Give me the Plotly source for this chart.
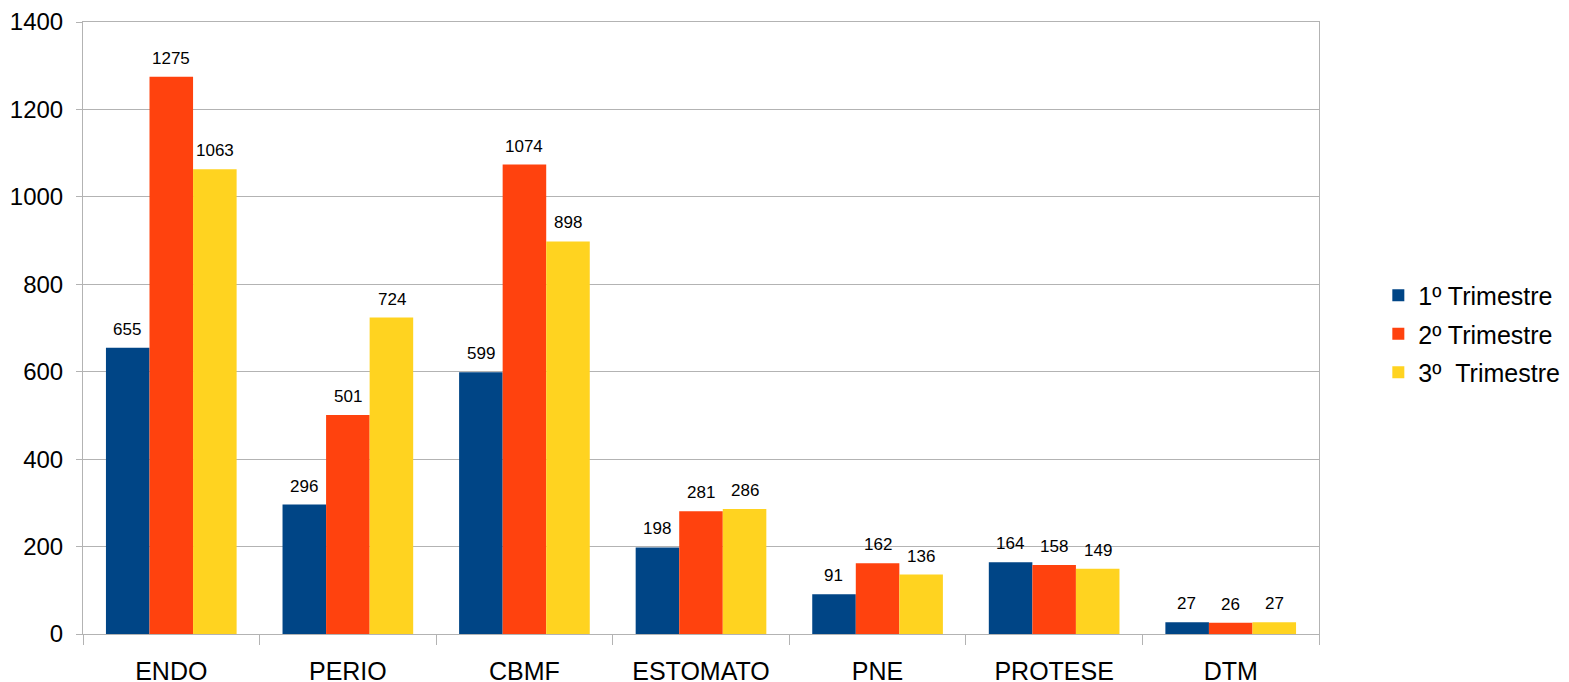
import plotly.graph_objects as go

categories = ["ENDO", "PERIO", "CBMF", "ESTOMATO", "PNE", "PROTESE", "DTM"]
tri1 = [655, 296, 599, 198, 91, 164, 27]
tri2 = [1275, 501, 1074, 281, 162, 158, 26]
tri3 = [1063, 724, 898, 286, 136, 149, 27]
series_names = ["1º Trimestre", "2º Trimestre", "3º\u00a0\u00a0Trimestre"]
colors = ["#004586", "#ff420e", "#ffd320"]

fig = go.Figure()
series = [tri1, tri2, tri3]
for i, (name, vals, c) in enumerate(zip(series_names, series, colors)):
    fig.add_trace(go.Bar(
        x=categories, y=vals, name=name, marker_color=c, marker_line_width=0,
        legendgroup=f"g{i}",
    ))
    for cat, v in zip(categories, vals):
        fig.add_annotation(
            x=cat, y=v, xref="x", yref="y", text=str(v), showarrow=False,
            xanchor="center", yanchor="bottom", xshift=(i - 1) * 43.8, yshift=7,
            font=dict(size=17, color="black", family="Liberation Sans"),
        )

fig.update_layout(
    width=1569, height=682,
    margin=dict(l=75, r=256, t=14, b=56),
    paper_bgcolor="white", plot_bgcolor="white",
    barmode="group", bargap=0.26, bargroupgap=0,
    font=dict(family="Liberation Sans", size=24, color="black"),
    legend=dict(x=1.048, y=0.49, xanchor="left", yanchor="middle",
                font=dict(size=25), tracegroupgap=3),
    showlegend=True,
)
fig.update_xaxes(
    showline=True, linecolor="#b3b3b3", linewidth=1, mirror=True,
    ticks="outside", tickson="boundaries", ticklen=10, tickcolor="#b3b3b3",
    tickfont=dict(size=25), showgrid=False, ticklabelstandoff=15,
    automargin=False,
)
fig.update_yaxes(
    range=[0, 1400], dtick=200, showline=True, linecolor="#b3b3b3", mirror=True,
    gridcolor="#b3b3b3", gridwidth=1, ticks="outside", ticklen=6, tickcolor="#b3b3b3",
    tickfont=dict(size=24), zeroline=False, ticklabelstandoff=8,
    automargin=False, ticklabeloverflow="allow",
)
fig.write_html("out.html")
